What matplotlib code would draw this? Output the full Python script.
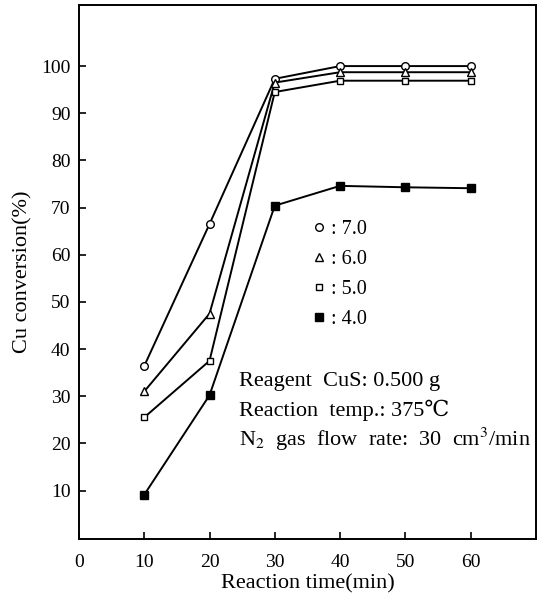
import matplotlib
matplotlib.use("Agg")
import matplotlib.pyplot as plt

plt.rcParams['font.family'] = ['Liberation Serif', 'DejaVu Serif']
plt.rcParams['mathtext.fontset'] = 'stix'

# reaction time (min)
time = [10, 20, 30, 40, 50, 60]
# Cu conversion (%) for each series
conv_70 = [36.4, 66.5, 97.3, 100.0, 100.0, 100.0]
conv_60 = [31.0, 47.5, 96.5, 98.7, 98.7, 98.7]
conv_50 = [25.5, 37.5, 94.5, 96.9, 96.9, 96.9]
conv_40 = [9.1, 30.2, 70.4, 74.6, 74.3, 74.1]
labels = [': 7.0', ': 6.0', ': 5.0', ': 4.0']

fig = plt.figure(figsize=(5.37, 5.97), dpi=100)
ax = fig.add_axes([0.147, 0.097, 0.851, 0.895])

styles = [('o', 'white'), ('^', 'white'), ('s', 'white'), ('s', 'black')]
for y, (m, fc), lab in zip([conv_70, conv_60, conv_50, conv_40], styles, labels):
    ax.plot(time, y, color='black', lw=1.4, marker=m, ms=5.5 if m != 's' or fc == 'black' else 5,
            mfc=fc, mec='black', mew=1.0, label=lab)

ax.set_xlim(0, 70)
ax.set_ylim(-0.3, 113)
ax.set_xticks([0, 10, 20, 30, 40, 50, 60])
ax.set_yticks(range(10, 101, 10))
ax.tick_params(direction='in', length=5, width=1.2, labelsize=14, pad=6)
ax.tick_params(axis='x', pad=11)
for s in ax.spines.values():
    s.set_linewidth(1.4)

ax.set_xlabel('Reaction time(min)', fontsize=16, labelpad=2)
ax.set_ylabel('Cu conversion(%)', fontsize=16, labelpad=6)

leg = ax.legend(loc='upper left', bbox_to_anchor=(0.49, 0.617), frameon=False,
                fontsize=14.5, handlelength=0.6, handletextpad=0.3,
                labelspacing=0.55, borderpad=0)
for h in leg.legend_handles:
    h.set_linestyle('none')

ax.text(0.35, 0.287, 'Reagent  CuS: 0.500 g', transform=ax.transAxes, fontsize=16)
ax.text(0.35, 0.231, 'Reaction  temp.: 375\u2103', transform=ax.transAxes, fontsize=16)
ax.text(0.35, 0.175, r'N$_2$  gas  flow  rate:  30  cm$^3$/min', transform=ax.transAxes, fontsize=16)

fig.savefig('out.png', dpi=100)
